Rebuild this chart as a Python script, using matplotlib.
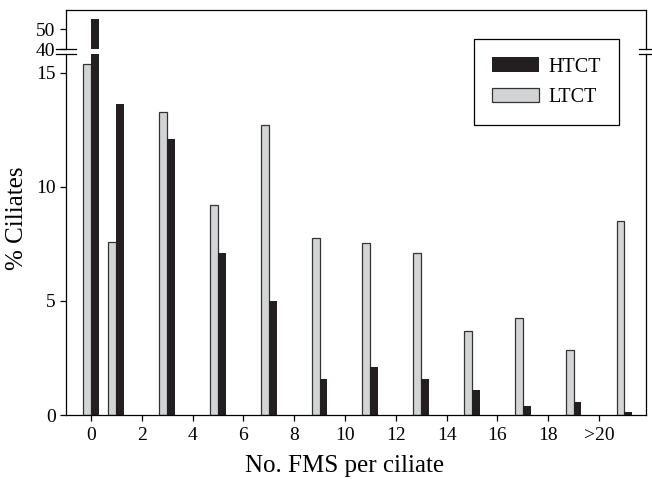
import matplotlib
matplotlib.use('Agg')
import matplotlib.pyplot as plt
from matplotlib.lines import Line2D
import numpy as np

plt.rcParams['font.family'] = ['Liberation Serif', 'DejaVu Serif']

# bar positions (bins) and values
positions = [0, 1, 3, 5, 7, 9, 11, 13, 15, 17, 19, 21]
ltct = [15.4, 7.6, 13.3, 9.2, 12.7, 7.75, 7.55, 7.1, 3.7, 4.25, 2.85, 8.5]
htct = [55.0, 13.65, 12.1, 7.1, 5.0, 1.6, 2.1, 1.6, 1.1, 0.4, 0.55, 0.12]
tick_pos = [0, 2, 4, 6, 8, 10, 12, 14, 16, 18, 20]
tick_labels = ['0', '2', '4', '6', '8', '10', '12', '14', '16', '18', '>20']

W, H = 652, 483
fig = plt.figure(figsize=(W / 100, H / 100), dpi=100, facecolor='white')

L, R = 66 / W, 646 / W
ax_top = fig.add_axes([L, (H - 49) / H, R - L, 39 / H])
ax_bot = fig.add_axes([L, (H - 415) / H, R - L, 361 / H])

bw = 0.31
gray = '#d3d4d6'
black = '#231f20'
pos = np.array(positions)
for ax in (ax_top, ax_bot):
    ax.bar(pos - bw / 2, ltct, width=bw, color=gray, edgecolor='#333333', linewidth=0.9, label='LTCT')
    ax.bar(pos + bw / 2, htct, width=bw, color=black, edgecolor=black, linewidth=0, label='HTCT')
    ax.set_xlim(-0.98, 21.85)
    for s in ax.spines.values():
        s.set_linewidth(0.9)
    ax.tick_params(direction='out', length=4.5, width=0.9, labelsize=14, pad=3)

ax_top.set_ylim(40, 59.5)
ax_top.set_yticks([40, 50])
ax_top.spines['bottom'].set_visible(False)
ax_top.set_xticks([])

ax_bot.set_ylim(0, 15.83)
ax_bot.set_yticks([0, 5, 10, 15])
ax_bot.spines['top'].set_visible(False)
ax_bot.set_xticks(tick_pos)
ax_bot.set_xticklabels(tick_labels)
ax_bot.tick_params(axis='x', pad=4)

# break marks
for y in (49, 54):
    fig.add_artist(Line2D([56 / W, 76 / W], [(H - y) / H] * 2, color='black', lw=0.9))
    fig.add_artist(Line2D([639 / W, 653 / W], [(H - y) / H] * 2, color='black', lw=0.9))

fig.text(345 / W, (H - 466) / H, 'No. FMS per ciliate', ha='center', va='center', fontsize=18)
fig.text(17 / W, (H - 218) / H, '% Ciliates', ha='center', va='center', rotation=90, fontsize=18)

h, l = ax_bot.get_legend_handles_labels()
leg = fig.legend([h[1], h[0]], [l[1], l[0]], loc='upper right',
                 bbox_to_anchor=(619 / W, (H - 39) / H), bbox_transform=fig.transFigure,
                 fancybox=False, edgecolor='black', framealpha=1, fontsize=14.5,
                 handlelength=2.35, handleheight=0.75, handletextpad=0.45,
                 labelspacing=0.55, borderpad=0.9, borderaxespad=0)
leg.get_frame().set_linewidth(0.9)

fig.savefig('out.png', dpi=100, facecolor='white')
